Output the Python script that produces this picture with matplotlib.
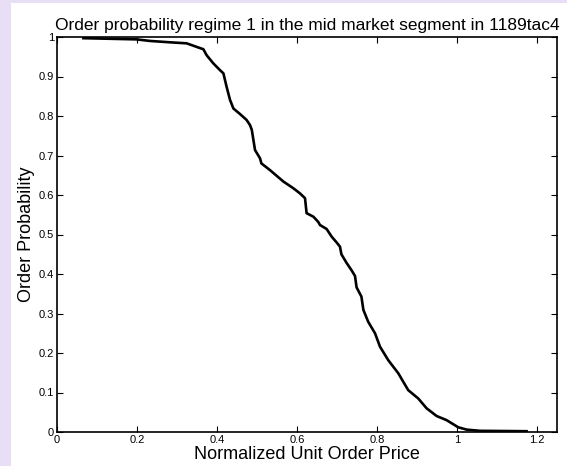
import matplotlib
matplotlib.use("Agg")
import matplotlib.pyplot as plt
from matplotlib.patches import Rectangle

plt.rcParams['font.family'] = ['Liberation Sans', 'DejaVu Sans']

# normalized unit order price vs. order probability
price = [0.066, 0.199, 0.2325, 0.291, 0.324, 0.349, 0.366, 0.374, 0.391, 0.4075,
         0.416, 0.424, 0.4325, 0.441, 0.4575, 0.474, 0.4825, 0.487, 0.495, 0.5075,
         0.511, 0.5325, 0.566, 0.591, 0.6075, 0.62, 0.624, 0.641, 0.653, 0.6575,
         0.674, 0.687, 0.699, 0.7075, 0.711, 0.724, 0.736, 0.745, 0.749, 0.761,
         0.766, 0.778, 0.795, 0.8075, 0.828, 0.853, 0.878, 0.903, 0.924, 0.949,
         0.974, 1.003, 1.024, 1.0575, 1.174]
prob = [0.997, 0.994, 0.990, 0.986, 0.984, 0.975, 0.969, 0.954, 0.933, 0.916,
        0.908, 0.874, 0.841, 0.819, 0.805, 0.790, 0.777, 0.765, 0.714, 0.693,
        0.680, 0.663, 0.634, 0.617, 0.604, 0.592, 0.554, 0.545, 0.532, 0.524,
        0.514, 0.494, 0.480, 0.469, 0.450, 0.428, 0.410, 0.395, 0.366, 0.343,
        0.309, 0.279, 0.250, 0.216, 0.182, 0.149, 0.106, 0.085, 0.060, 0.0405,
        0.030, 0.012, 0.006, 0.003, 0.002]

xticks = [0, 0.2, 0.4, 0.6, 0.8, 1, 1.2]
xticklabels = ['0', '0.2', '0.4', '0.6', '0.8', '1', '1.2']
yticks = [0, 0.1, 0.2, 0.3, 0.4, 0.5, 0.6, 0.7, 0.8, 0.9, 1]
yticklabels = ['0', '0.1', '0.2', '0.3', '0.4', '0.5', '0.6', '0.7', '0.8', '0.9', '1']

fig = plt.figure(figsize=(5.67, 4.66), dpi=100)
fig.patch.set_facecolor('white')
# lavender strips along the left and top edges
fig.patches.append(Rectangle((0, 0), 11 / 567, 1, transform=fig.transFigure,
                             facecolor='#E8DEF6', edgecolor='none', zorder=-10))
fig.patches.append(Rectangle((0, 1 - 3 / 466), 1, 3 / 466, transform=fig.transFigure,
                             facecolor='#E8DEF6', edgecolor='none', zorder=-10))

ax = fig.add_axes([57 / 567, 34 / 466, 500 / 567, 395 / 466])
ax.plot(price, prob, color='black', linewidth=1.9)

ax.set_xlim(0, 1.25)
ax.set_ylim(0, 1)
ax.set_xticks(xticks)
ax.set_xticklabels(xticklabels)
ax.set_yticks(yticks)
ax.set_yticklabels(yticklabels)
ax.tick_params(direction='in', top=True, right=True, length=4, width=0.8,
               labelsize=8, pad=2)
for s in ax.spines.values():
    s.set_linewidth(1.2)

ax.set_xlabel('Normalized Unit Order Price', fontsize=13, labelpad=1)
ax.set_ylabel('Order Probability', fontsize=13, labelpad=3)
ax.set_title('Order probability regime 1 in the mid market segment in 1189tac4',
             fontsize=12.5, pad=5)

fig.savefig('out.png', dpi=100)
